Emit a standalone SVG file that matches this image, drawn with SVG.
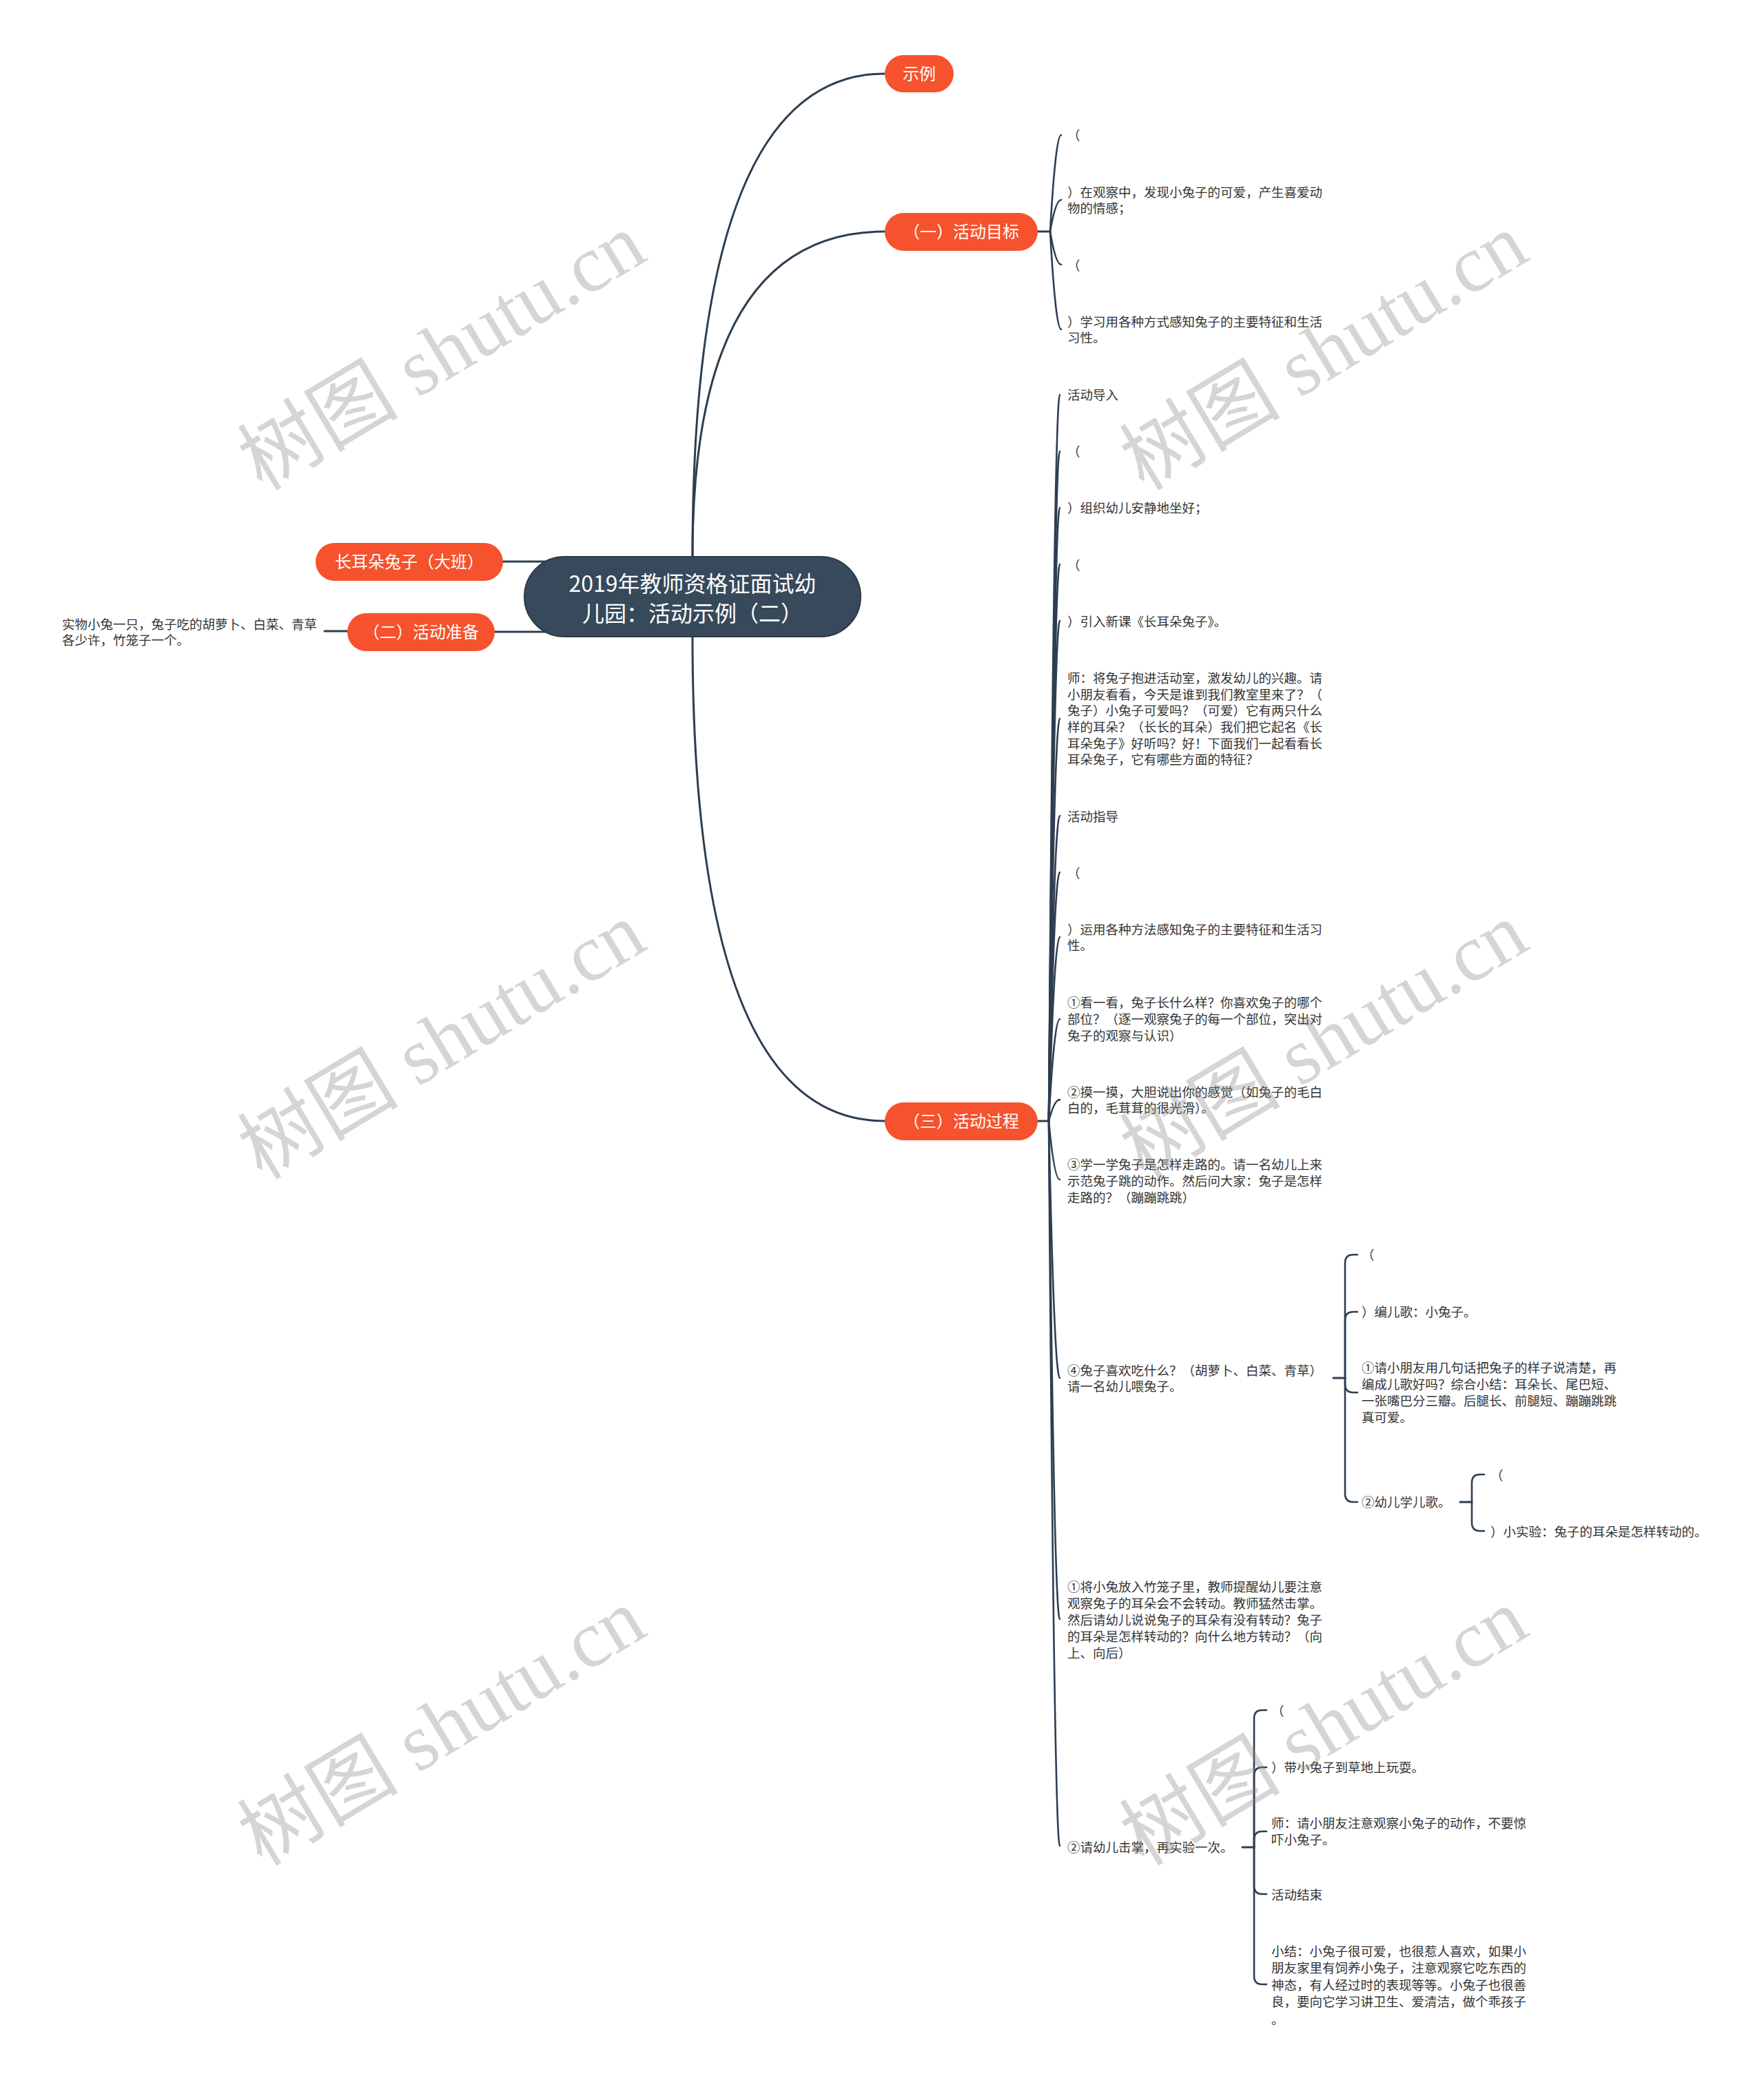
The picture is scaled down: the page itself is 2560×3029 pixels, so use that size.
<svg xmlns="http://www.w3.org/2000/svg" width="2560" height="3029" viewBox="0 0 2560 3029">
<style>
.bg{fill:#ffffff}
.ln{fill:none;stroke:#2d3e50;stroke-width:3;stroke-linecap:round}
.ln2{fill:none;stroke:#2d3e50;stroke-width:2.6;stroke-linecap:round}
.root{fill:#37495b;stroke:#2b3a48;stroke-width:2}
.main{fill:#f5522d}
.rt{font-family:"Noto Sans CJK SC","Noto Sans",sans-serif;font-size:32px;fill:#ffffff;text-anchor:middle}
.nt{font-family:"Noto Sans CJK SC","Noto Sans",sans-serif;font-size:24px;fill:#ffffff;text-anchor:middle}
.lt{font-family:"Noto Sans CJK SC","Noto Sans",sans-serif;font-size:18.5px;fill:#333333}
.wm{font-family:"Liberation Serif","Noto Sans CJK SC",serif;font-size:117px;fill:#8a8a8a;fill-opacity:0.36;text-anchor:middle}
</style>
<rect class="bg" x="0" y="0" width="2560" height="3029"/>

<g id="connectors">
  <path class="ln" d="M1005 808 Q1005 107 1284 107"/>
  <path class="ln" d="M1005 808 Q1005 336 1284 336"/>
  <path class="ln" d="M1005 924 Q1005 1627 1284 1627"/>
  <path class="ln" d="M730 815 L820 815"/>
  <path class="ln" d="M718 917 L820 917"/>
  <path class="ln" d="M471 916 L504 916"/>
  <path class="ln" d="M1506 336 L1524 336"/>
  <path class="ln2" d="M1524 336 Q1532 196 1540 196"/>
  <path class="ln2" d="M1524 336 Q1532 290 1540 290"/>
  <path class="ln2" d="M1524 336 Q1532 384 1540 384"/>
  <path class="ln2" d="M1524 336 Q1532 478 1540 478"/>
  <path class="ln" d="M1506 1627 L1522 1627"/>
  <path class="ln2" d="M1522 1627 Q1530 573 1538 573"/>
  <path class="ln2" d="M1522 1627 Q1530 655 1538 655"/>
  <path class="ln2" d="M1522 1627 Q1530 737 1538 737"/>
  <path class="ln2" d="M1522 1627 Q1530 819 1538 819"/>
  <path class="ln2" d="M1522 1627 Q1530 901 1538 901"/>
  <path class="ln2" d="M1522 1627 Q1530 1043 1538 1043"/>
  <path class="ln2" d="M1522 1627 Q1530 1184 1538 1184"/>
  <path class="ln2" d="M1522 1627 Q1530 1266 1538 1266"/>
  <path class="ln2" d="M1522 1627 Q1530 1360 1538 1360"/>
  <path class="ln2" d="M1522 1627 Q1530 1479 1538 1479"/>
  <path class="ln2" d="M1522 1627 Q1530 1596 1538 1596"/>
  <path class="ln2" d="M1522 1627 Q1530 1712 1538 1712"/>
  <path class="ln2" d="M1522 1627 Q1530 2000 1538 2000"/>
  <path class="ln2" d="M1522 1627 Q1530 2350 1538 2350"/>
  <path class="ln2" d="M1522 1627 Q1530 2679 1538 2679"/>
  <path class="ln" d="M1935 2000 L1952 2000"/>
  <path class="ln2" d="M1952 2000 L1952 1833 Q1952 1821 1964 1821 L1970 1821"/>
  <path class="ln2" d="M1952 2000 L1952 1916 Q1952 1904 1964 1904 L1970 1904"/>
  <path class="ln2" d="M1952 2000 L1952 2009 Q1952 2021 1964 2021 L1970 2021"/>
  <path class="ln2" d="M1952 2000 L1952 2168 Q1952 2180 1964 2180 L1970 2180"/>
  <path class="ln" d="M2119 2180 L2136 2180"/>
  <path class="ln2" d="M2136 2180 L2136 2152 Q2136 2140 2148 2140 L2154 2140"/>
  <path class="ln2" d="M2136 2180 L2136 2210 Q2136 2222 2148 2222 L2154 2222"/>
  <path class="ln" d="M1803 2681 L1820 2681"/>
  <path class="ln2" d="M1820 2681 L1820 2494 Q1820 2482 1832 2482 L1838 2482"/>
  <path class="ln2" d="M1820 2681 L1820 2577 Q1820 2565 1832 2565 L1838 2565"/>
  <path class="ln2" d="M1820 2681 L1820 2670 Q1820 2658 1832 2658 L1838 2658"/>
  <path class="ln2" d="M1820 2681 L1820 2737 Q1820 2749 1832 2749 L1838 2749"/>
  <path class="ln2" d="M1820 2681 L1820 2868 Q1820 2880 1832 2880 L1838 2880"/>
</g>

<g id="root">
  <rect class="root" x="761" y="808" width="488" height="116" rx="58"/>
  <text class="rt" x="1005" y="859">2019年教师资格证面试幼</text>
  <text class="rt" x="1005" y="902">儿园：活动示例（二）</text>
</g>

<g id="n-shili">
  <rect class="main" x="1284" y="80" width="100" height="54" rx="27"/>
  <text class="nt" x="1334" y="116">示例</text>
</g>
<g id="n-mubiao">
  <rect class="main" x="1284" y="309" width="222" height="55" rx="27.5"/>
  <text class="nt" x="1395" y="345">（一）活动目标</text>
</g>
<g id="n-guocheng">
  <rect class="main" x="1284" y="1600" width="222" height="55" rx="27.5"/>
  <text class="nt" x="1395" y="1636">（三）活动过程</text>
</g>
<g id="n-tuzi">
  <rect class="main" x="458" y="788" width="272" height="55" rx="27.5"/>
  <text class="nt" x="594" y="824">长耳朵兔子（大班）</text>
</g>
<g id="n-zhunbei">
  <rect class="main" x="504" y="890" width="214" height="55" rx="27.5"/>
  <text class="nt" x="611" y="926">（二）活动准备</text>
</g>

<g id="leaf-zhunbei">
  <text class="lt" x="90" y="913">实物小兔一只，兔子吃的胡萝卜、白菜、青草</text>
  <text class="lt" x="90" y="936">各少许，竹笼子一个。</text>
</g>

<g id="leaf-mubiao">
  <text class="lt" x="1549" y="203">（</text>
  <text class="lt" x="1549" y="286">）在观察中，发现小兔子的可爱，产生喜爱动</text>
  <text class="lt" x="1549" y="309">物的情感；</text>
  <text class="lt" x="1549" y="392">（</text>
  <text class="lt" x="1549" y="474">）学习用各种方式感知兔子的主要特征和生活</text>
  <text class="lt" x="1549" y="497">习性。</text>
</g>

<g id="leaf-guocheng">
  <text class="lt" x="1549" y="580">活动导入</text>
  <text class="lt" x="1549" y="662">（</text>
  <text class="lt" x="1549" y="744">）组织幼儿安静地坐好；</text>
  <text class="lt" x="1549" y="827">（</text>
  <text class="lt" x="1549" y="909">）引入新课《长耳朵兔子》。</text>
  <text class="lt" x="1549" y="991">师：将兔子抱进活动室，激发幼儿的兴趣。请</text>
  <text class="lt" x="1549" y="1015">小朋友看看，今天是谁到我们教室里来了？（</text>
  <text class="lt" x="1549" y="1038">兔子）小兔子可爱吗？（可爱）它有两只什么</text>
  <text class="lt" x="1549" y="1062">样的耳朵？（长长的耳朵）我们把它起名《长</text>
  <text class="lt" x="1549" y="1086">耳朵兔子》好听吗？好！下面我们一起看看长</text>
  <text class="lt" x="1549" y="1109">耳朵兔子，它有哪些方面的特征？</text>
  <text class="lt" x="1549" y="1192">活动指导</text>
  <text class="lt" x="1549" y="1274">（</text>
  <text class="lt" x="1549" y="1356">）运用各种方法感知兔子的主要特征和生活习</text>
  <text class="lt" x="1549" y="1379">性。</text>
  <text class="lt" x="1549" y="1462">①看一看，兔子长什么样？你喜欢兔子的哪个</text>
  <text class="lt" x="1549" y="1486">部位？（逐一观察兔子的每一个部位，突出对</text>
  <text class="lt" x="1549" y="1510">兔子的观察与认识）</text>
  <text class="lt" x="1549" y="1592">②摸一摸，大胆说出你的感觉（如兔子的毛白</text>
  <text class="lt" x="1549" y="1615">白的，毛茸茸的很光滑）。</text>
  <text class="lt" x="1549" y="1697">③学一学兔子是怎样走路的。请一名幼儿上来</text>
  <text class="lt" x="1549" y="1721">示范兔子跳的动作。然后问大家：兔子是怎样</text>
  <text class="lt" x="1549" y="1745">走路的？（蹦蹦跳跳）</text>
  <text class="lt" x="1549" y="1996">④兔子喜欢吃什么？（胡萝卜、白菜、青草）</text>
  <text class="lt" x="1549" y="2019">请一名幼儿喂兔子。</text>
  <text class="lt" x="1549" y="2310">①将小兔放入竹笼子里，教师提醒幼儿要注意</text>
  <text class="lt" x="1549" y="2334">观察兔子的耳朵会不会转动。教师猛然击掌。</text>
  <text class="lt" x="1549" y="2358">然后请幼儿说说兔子的耳朵有没有转动？兔子</text>
  <text class="lt" x="1549" y="2382">的耳朵是怎样转动的？向什么地方转动？（向</text>
  <text class="lt" x="1549" y="2406">上、向后）</text>
  <text class="lt" x="1549" y="2688">②请幼儿击掌，再实验一次。</text>
</g>

<g id="leaf-four">
  <text class="lt" x="1976" y="1828">（</text>
  <text class="lt" x="1976" y="1911">）编儿歌：小兔子。</text>
  <text class="lt" x="1976" y="1992">①请小朋友用几句话把兔子的样子说清楚，再</text>
  <text class="lt" x="1976" y="2016">编成儿歌好吗？综合小结：耳朵长、尾巴短、</text>
  <text class="lt" x="1976" y="2040">一张嘴巴分三瓣。后腿长、前腿短、蹦蹦跳跳</text>
  <text class="lt" x="1976" y="2064">真可爱。</text>
  <text class="lt" x="1976" y="2187">②幼儿学儿歌。</text>
</g>

<g id="leaf-xueerge">
  <text class="lt" x="2163" y="2148">（</text>
  <text class="lt" x="2163" y="2230">）小实验：兔子的耳朵是怎样转动的。</text>
</g>

<g id="leaf-jizhang">
  <text class="lt" x="1845" y="2490">（</text>
  <text class="lt" x="1845" y="2572">）带小兔子到草地上玩耍。</text>
  <text class="lt" x="1845" y="2653">师：请小朋友注意观察小兔子的动作，不要惊</text>
  <text class="lt" x="1845" y="2677">吓小兔子。</text>
  <text class="lt" x="1845" y="2757">活动结束</text>
  <text class="lt" x="1845" y="2839">小结：小兔子很可爱，也很惹人喜欢，如果小</text>
  <text class="lt" x="1845" y="2863">朋友家里有饲养小兔子，注意观察它吃东西的</text>
  <text class="lt" x="1845" y="2888">神态，有人经过时的表现等等。小兔子也很善</text>
  <text class="lt" x="1845" y="2912">良，要向它学习讲卫生、爱清洁，做个乖孩子</text>
  <text class="lt" x="1845" y="2938">。</text>
</g>

<g id="watermark">
  <text class="wm" transform="translate(642 512) rotate(-31)" y="38">树图 shutu.cn</text>
  <text class="wm" transform="translate(1922 512) rotate(-31)" y="38">树图 shutu.cn</text>
  <text class="wm" transform="translate(642 1512) rotate(-31)" y="38">树图 shutu.cn</text>
  <text class="wm" transform="translate(1922 1512) rotate(-31)" y="38">树图 shutu.cn</text>
  <text class="wm" transform="translate(642 2508) rotate(-31)" y="38">树图 shutu.cn</text>
  <text class="wm" transform="translate(1922 2508) rotate(-31)" y="38">树图 shutu.cn</text>
</g>
</svg>
